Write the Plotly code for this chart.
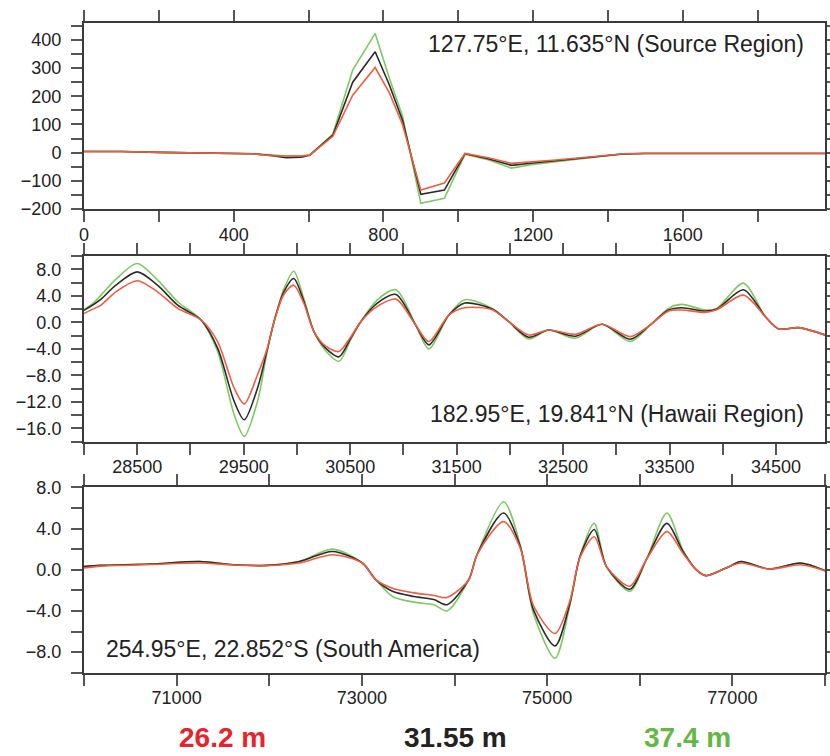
import plotly.graph_objects as go

# ---------------- data ----------------
# Panel 1: Source region (time, s)
p1_time = [0, 100, 200, 300, 400, 450, 500, 540, 580, 603, 665, 718, 778, 816, 851, 900, 963,
           1018, 1080, 1142, 1200, 1260, 1320, 1380, 1440, 1500, 1600, 1700, 1800, 1900, 1980]
p1_green = [4, 4, 1, -1, -2, -4, -8, -12, -12, -9, 66, 293, 423, 264, 130, -180, -162,
            -6, -25, -55, -42, -32, -22, -14, -5, -3, -3, -3, -3, -3, -3]
p1_black = [4, 4, 1, -1, -2, -4, -10, -18, -16, -9, 62, 250, 358, 240, 115, -148, -133,
            -4, -22, -45, -37, -29, -21, -13, -5, -3, -3, -3, -3, -3, -3]
p1_red = [4, 4, 1, -1, -2, -4, -11, -12, -12, -9, 58, 204, 302, 212, 100, -133, -108,
          -3, -18, -38, -33, -26, -19, -12, -4, -2, -2, -2, -2, -2, -2]

# Panel 2: Hawaii region
p2_time = [28000, 28100, 28160, 28300, 28500, 28690, 28880, 29100, 29255, 29410, 29505, 29630,
           29720, 29785, 29877, 29970, 30066, 30160, 30270, 30395, 30505, 30600, 30755, 30930,
           31115, 31239, 31427, 31577, 31834, 31990, 32177, 32365, 32615, 32866, 33131, 33319,
           33491, 33616, 33835, 33944, 34194, 34400, 34525, 34712, 34960]
p2_green = [1.9, 3.1, 4.1, 6.5, 8.87, 6.4, 3.1, 0.35, -4.4, -13.9, -17.2, -11.9,
            -4.4, 0.1, 5.0, 7.7, 3.5, -1.4, -4.3, -5.9, -2.6, 0.1, 3.4, 4.9,
            -0.4, -4.0, 1.1, 3.4, 2.1, 0.1, -2.5, -1.15, -2.4, -0.3, -2.9, -0.4,
            2.1, 2.7, 1.85, 2.1, 5.9, 0.85, -1.0, -0.8, -1.9]
p2_black = [1.8, 2.8, 3.5, 5.6, 7.6, 5.6, 2.6, 0.35, -3.9, -11.9, -14.7, -9.9,
            -4.2, 0.1, 4.6, 6.6, 3.1, -1.4, -3.9, -5.2, -2.4, 0.1, 2.9, 4.2,
            -0.4, -3.4, 1.1, 2.9, 2.0, 0.1, -2.25, -1.15, -2.1, -0.3, -2.55, -0.4,
            1.85, 2.2, 1.7, 2.0, 4.9, 0.85, -1.0, -0.8, -1.9]
p2_red = [1.35, 2.1, 2.6, 4.6, 6.27, 4.6, 2.1, 0.35, -2.9, -9.9, -12.3, -7.9,
          -4.0, 0.1, 4.2, 5.6, 2.8, -1.4, -3.6, -4.4, -2.2, 0.1, 2.4, 3.5,
          -0.4, -2.9, 1.1, 2.2, 1.9, 0.1, -1.9, -1.15, -1.8, -0.3, -2.15, -0.4,
          1.7, 1.85, 1.5, 1.9, 4.1, 0.85, -1.0, -0.8, -1.9]

# Panel 3: South America
p3_time = [70000, 70175, 70713, 71250, 71610, 71970, 72326, 72684, 73006, 73150, 73330, 73563,
           73777, 73920, 74154, 74243, 74530, 74710, 74853, 75086, 75247, 75355, 75509, 75641,
           75892, 76071, 76293, 76466, 76609, 76716, 76968, 77093, 77398, 77738, 78000]
p3_green = [0.32, 0.42, 0.55, 0.8, 0.48, 0.42, 0.8, 2.0, 0.65, -0.97, -2.6, -3.15,
            -3.4, -4.0, -0.97, 1.45, 6.6, 2.4, -4.3, -8.6, -3.4, 1.3, 4.5, 0.3,
            -2.1, 0.97, 5.5, 1.9, 0.0, -0.58, 0.32, 0.8, 0.06, 0.65, -0.1]
p3_black = [0.3, 0.42, 0.55, 0.8, 0.48, 0.42, 0.8, 1.77, 0.65, -0.97, -2.1, -2.6,
            -2.9, -3.4, -0.97, 1.45, 5.5, 2.25, -3.9, -7.4, -3.2, 1.3, 3.9, 0.3,
            -1.9, 0.97, 4.5, 1.77, 0.0, -0.58, 0.32, 0.8, 0.06, 0.65, -0.1]
p3_red = [0.16, 0.35, 0.5, 0.65, 0.45, 0.4, 0.65, 1.45, 0.65, -0.97, -1.8, -2.25,
          -2.5, -2.7, -0.97, 1.45, 4.67, 2.1, -3.5, -6.2, -3.0, 1.2, 3.2, 0.3,
          -1.6, 0.97, 3.7, 1.6, 0.0, -0.58, 0.32, 0.65, 0.06, 0.48, -0.1]

series_labels = ["26.2 m", "31.55 m", "37.4 m"]
panel_titles = ["127.75°E, 11.635°N (Source Region)",
                "182.95°E, 19.841°N (Hawaii Region)",
                "254.95°E, 22.852°S (South America)"]

# ---------------- styling ----------------
W, H = 830, 756
RED, BLACK, GREEN = "#f25c40", "#2b2b2b", "#7fc963"
FONT = "Liberation Sans, Arial, Helvetica, sans-serif"
TXT = "#222222"
AX = "#3a3a3a"

fig = go.Figure()

panels = [
    (p1_time, p1_red, p1_black, p1_green, "linear"),
    (p2_time, p2_red, p2_black, p2_green, "spline"),
    (p3_time, p3_red, p3_black, p3_green, "spline"),
]
for i, (t, r, b, g, shape) in enumerate(panels):
    xa = "x" if i == 0 else f"x{i+1}"
    ya = "y" if i == 0 else f"y{i+1}"
    for vals, col in ((g, GREEN), (b, BLACK), (r, RED)):
        fig.add_trace(go.Scatter(x=t, y=vals, mode="lines", xaxis=xa, yaxis=ya,
                                 line=dict(color=col, width=1.6, shape=shape, smoothing=0.8),
                                 showlegend=False, hoverinfo="skip"))


def px_to_frac(y):
    return 1 - y / H


xdom = [84 / W, 825 / W]
ydoms = [(px_to_frac(209), px_to_frac(23)),
         (px_to_frac(441.7), px_to_frac(256)),
         (px_to_frac(672.7), px_to_frac(487.3))]

xcfg = [dict(range=[0, 1980], tick0=0, dtick=400, minor_dtick=200, minor_tick0=0),
        dict(range=[28000, 34960], tick0=28500, dtick=1000, minor_dtick=500, minor_tick0=28000),
        dict(range=[70000, 78000], tick0=71000, dtick=2000, minor_dtick=1000, minor_tick0=70000)]
ycfg = [dict(range=[-200, 460], tick0=0, dtick=100, minor_dtick=50, fmt="d"),
        dict(range=[-18, 10], tick0=0, dtick=4, minor_dtick=2, fmt=".1f"),
        dict(range=[-10, 8], tick0=0, dtick=4, minor_dtick=2, fmt=".1f")]

common = dict(showline=True, linecolor=AX, linewidth=2, mirror="ticks",
              ticks="outside", ticklen=11, tickwidth=2, tickcolor="#555555",
              showgrid=False, zeroline=False, automargin=False,
              tickfont=dict(family=FONT, size=18, color=TXT))

layout = dict(width=W, height=H, margin=dict(l=0, r=0, t=0, b=0),
              paper_bgcolor="white", plot_bgcolor="white", showlegend=False)

for i in range(3):
    xk = "xaxis" if i == 0 else f"xaxis{i+1}"
    yk = "yaxis" if i == 0 else f"yaxis{i+1}"
    yanchor = "y" if i == 0 else f"y{i+1}"
    xanchor = "x" if i == 0 else f"x{i+1}"
    xc = xcfg[i]
    yc = ycfg[i]
    layout[xk] = dict(common, domain=xdom, anchor=yanchor, range=xc["range"],
                      tickmode="linear", tick0=xc["tick0"], dtick=xc["dtick"], tickformat="d",
                      ticklabelstandoff=-3,
                      minor=dict(tick0=xc["minor_tick0"], dtick=xc["minor_dtick"], ticks="outside",
                                 ticklen=11, tickwidth=2, tickcolor="#555555", showgrid=False))
    layout[yk] = dict(common, domain=list(ydoms[i]), anchor=xanchor, range=yc["range"],
                      tickmode="linear", tick0=yc["tick0"], dtick=yc["dtick"], tickformat=yc["fmt"],
                      ticklabelstandoff=6,
                      minor=dict(tick0=0, dtick=yc["minor_dtick"], ticks="outside",
                                 ticklen=11, tickwidth=2, tickcolor="#555555", showgrid=False))

fig.update_layout(**layout)

# panel annotations
fig.add_annotation(xref="paper", yref="paper", x=806 / W, y=px_to_frac(43.5), text=panel_titles[0],
                   showarrow=False, xanchor="right", yanchor="middle",
                   font=dict(family=FONT, size=23, color=TXT))
fig.add_annotation(xref="paper", yref="paper", x=806 / W, y=px_to_frac(413.5), text=panel_titles[1],
                   showarrow=False, xanchor="right", yanchor="middle",
                   font=dict(family=FONT, size=23, color=TXT))
fig.add_annotation(xref="paper", yref="paper", x=104 / W, y=px_to_frac(648.5), text=panel_titles[2],
                   showarrow=False, xanchor="left", yanchor="middle",
                   font=dict(family=FONT, size=23, color=TXT))

# series labels at bottom
for lbl, col, cx in zip(series_labels, ["#e8232b", "#222222", "#62b843"], [222, 455, 687]):
    fig.add_annotation(xref="paper", yref="paper", x=cx / W, y=px_to_frac(737), text=f"<b>{lbl}</b>",
                       showarrow=False, xanchor="center", yanchor="middle",
                       font=dict(family=FONT, size=28, color=col))

fig.write_html("out.html", config={"displayModeBar": False},
               post_script="document.body.style.margin='0px';")
